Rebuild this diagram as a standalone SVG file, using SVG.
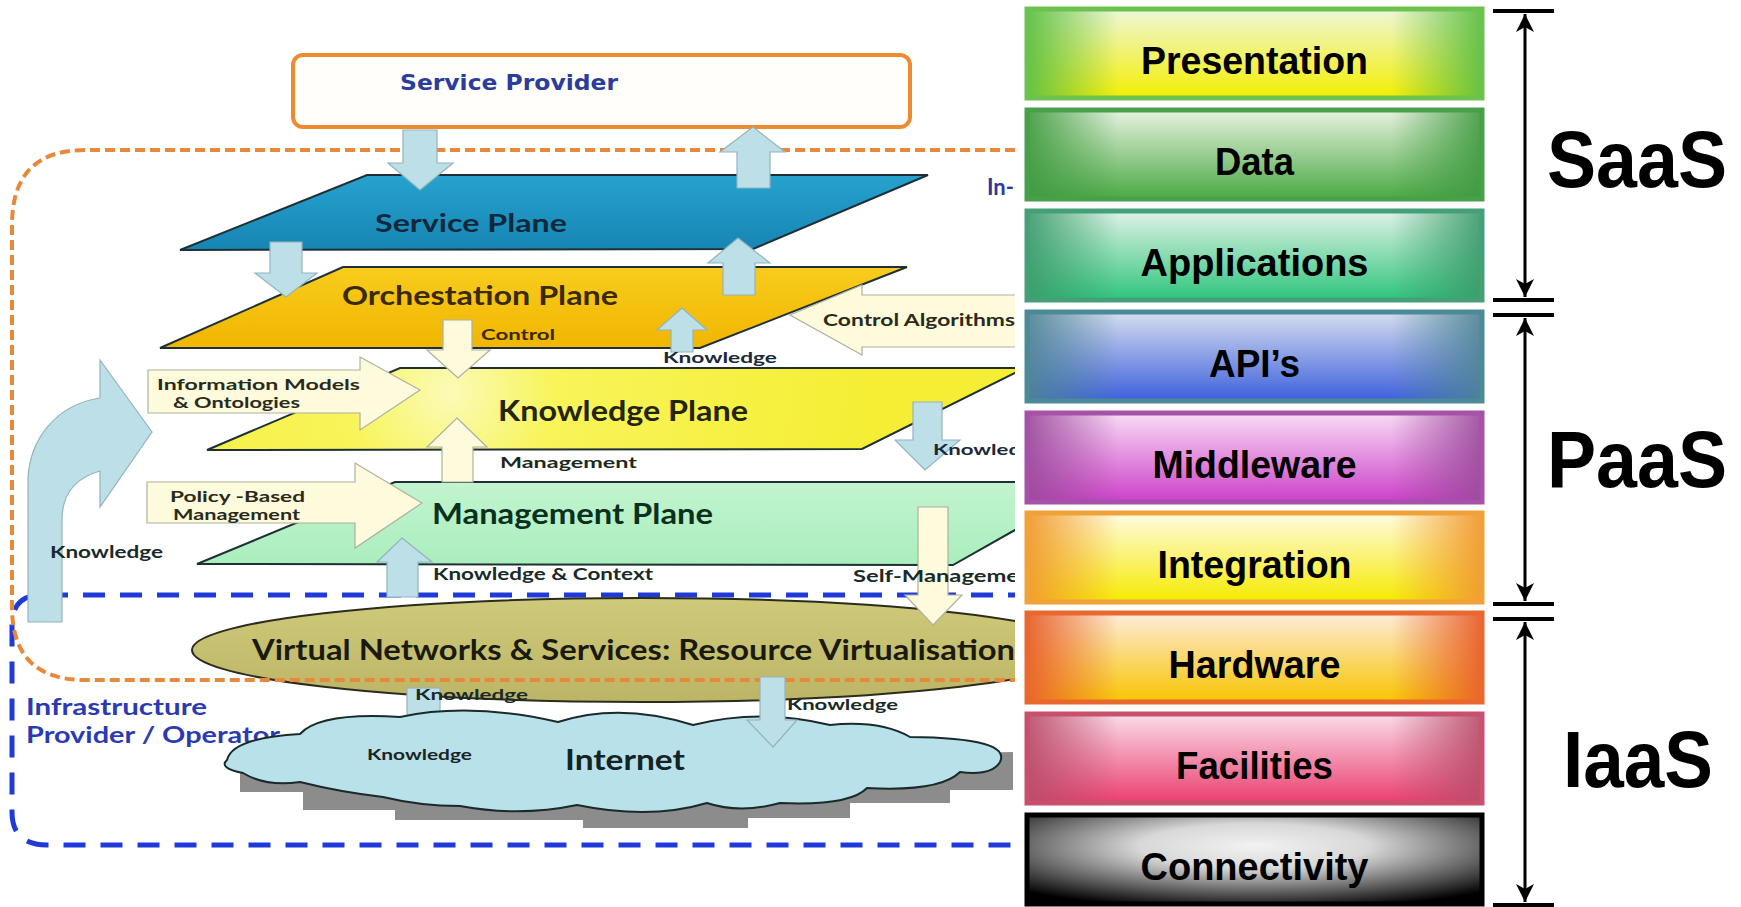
<svg xmlns="http://www.w3.org/2000/svg" width="1741" height="907" viewBox="0 0 1741 907">
<style>
.t{font-family:Lato,"Open Sans","Liberation Sans",sans-serif;font-weight:bold}
.pl{stroke:#1e3036;stroke-width:2}
.cr{fill:#fdfbdc;stroke:#aeb0a0;stroke-width:1.2}
.lb{fill:#bddfe8;stroke:#93b4be;stroke-width:1.2}
.bx{font-family:"Liberation Sans",Arial,sans-serif;font-weight:bold;font-size:38px;text-anchor:middle;fill:#000}
.big{font-family:"Liberation Sans",Arial,sans-serif;font-weight:bold;font-size:79px;text-anchor:middle;fill:#000}
.bar{stroke:#000;stroke-width:4}
.brk{stroke:#000;stroke-width:3}
</style>
<defs>
<clipPath id="lc"><rect x="0" y="0" width="1015" height="907"/></clipPath>
<linearGradient id="gSvc" x1="0" y1="0" x2="0" y2="1"><stop offset="0" stop-color="#26a2cf"/><stop offset="1" stop-color="#1785b3"/></linearGradient>
<linearGradient id="gOrc" x1="0" y1="0" x2="0" y2="1"><stop offset="0" stop-color="#f8cc1e"/><stop offset="1" stop-color="#f1b600"/></linearGradient>
<radialGradient id="gKno" cx="450" cy="392" r="420" gradientUnits="userSpaceOnUse"><stop offset="0" stop-color="#fbfbb8"/><stop offset="0.25" stop-color="#f8f45a"/><stop offset="1" stop-color="#f5ee34"/></radialGradient>
<linearGradient id="gMan" x1="0" y1="0" x2="0" y2="1"><stop offset="0" stop-color="#c2f4cf"/><stop offset="1" stop-color="#aaeebd"/></linearGradient>
<linearGradient id="gVN" x1="0" y1="0" x2="0" y2="1"><stop offset="0" stop-color="#cfc97a"/><stop offset="1" stop-color="#bcb566"/></linearGradient>
<linearGradient id="v1" x1="0" y1="0" x2="0" y2="1"><stop offset="0" stop-color="#eef7da"/><stop offset="1" stop-color="#f4ee00"/></linearGradient>
<linearGradient id="v2" x1="0" y1="0" x2="0" y2="1"><stop offset="0" stop-color="#e8f2e0"/><stop offset="1" stop-color="#4aa843"/></linearGradient>
<linearGradient id="v3" x1="0" y1="0" x2="0" y2="1"><stop offset="0" stop-color="#e0f2e6"/><stop offset="1" stop-color="#2ec47c"/></linearGradient>
<linearGradient id="v4" x1="0" y1="0" x2="0" y2="1"><stop offset="0" stop-color="#d6deee"/><stop offset="1" stop-color="#3c5fdc"/></linearGradient>
<linearGradient id="v5" x1="0" y1="0" x2="0" y2="1"><stop offset="0" stop-color="#f8dcf4"/><stop offset="1" stop-color="#cc40c8"/></linearGradient>
<linearGradient id="v6" x1="0" y1="0" x2="0" y2="1"><stop offset="0" stop-color="#fffbe2"/><stop offset="1" stop-color="#f6ea00"/></linearGradient>
<linearGradient id="v7" x1="0" y1="0" x2="0" y2="1"><stop offset="0" stop-color="#fdecdc"/><stop offset="1" stop-color="#f8c400"/></linearGradient>
<linearGradient id="v8" x1="0" y1="0" x2="0" y2="1"><stop offset="0" stop-color="#f9dde9"/><stop offset="1" stop-color="#ea3e6e"/></linearGradient>
<linearGradient id="h1" x1="0" y1="0" x2="1" y2="0"><stop offset="0" stop-color="#5fbf45" stop-opacity=".95"/><stop offset=".2" stop-color="#5fbf45" stop-opacity="0"/><stop offset=".8" stop-color="#5fbf45" stop-opacity="0"/><stop offset="1" stop-color="#5fbf45" stop-opacity=".95"/></linearGradient>
<linearGradient id="h2" x1="0" y1="0" x2="1" y2="0"><stop offset="0" stop-color="#3f9a40" stop-opacity=".9"/><stop offset=".2" stop-color="#3f9a40" stop-opacity="0"/><stop offset=".8" stop-color="#3f9a40" stop-opacity="0"/><stop offset="1" stop-color="#3f9a40" stop-opacity=".9"/></linearGradient>
<linearGradient id="h3" x1="0" y1="0" x2="1" y2="0"><stop offset="0" stop-color="#3a9a6a" stop-opacity=".9"/><stop offset=".2" stop-color="#3a9a6a" stop-opacity="0"/><stop offset=".8" stop-color="#3a9a6a" stop-opacity="0"/><stop offset="1" stop-color="#3a9a6a" stop-opacity=".9"/></linearGradient>
<linearGradient id="h4" x1="0" y1="0" x2="1" y2="0"><stop offset="0" stop-color="#4e8494" stop-opacity=".9"/><stop offset=".2" stop-color="#4e8494" stop-opacity="0"/><stop offset=".8" stop-color="#4e8494" stop-opacity="0"/><stop offset="1" stop-color="#4e8494" stop-opacity=".9"/></linearGradient>
<linearGradient id="h5" x1="0" y1="0" x2="1" y2="0"><stop offset="0" stop-color="#9a4a9a" stop-opacity=".9"/><stop offset=".2" stop-color="#9a4a9a" stop-opacity="0"/><stop offset=".8" stop-color="#9a4a9a" stop-opacity="0"/><stop offset="1" stop-color="#9a4a9a" stop-opacity=".9"/></linearGradient>
<linearGradient id="h6" x1="0" y1="0" x2="1" y2="0"><stop offset="0" stop-color="#f09a30" stop-opacity=".95"/><stop offset=".2" stop-color="#f09a30" stop-opacity="0"/><stop offset=".8" stop-color="#f09a30" stop-opacity="0"/><stop offset="1" stop-color="#f09a30" stop-opacity=".95"/></linearGradient>
<linearGradient id="h7" x1="0" y1="0" x2="1" y2="0"><stop offset="0" stop-color="#e8602c" stop-opacity=".95"/><stop offset=".2" stop-color="#e8602c" stop-opacity="0"/><stop offset=".8" stop-color="#e8602c" stop-opacity="0"/><stop offset="1" stop-color="#e8602c" stop-opacity=".95"/></linearGradient>
<linearGradient id="h8" x1="0" y1="0" x2="1" y2="0"><stop offset="0" stop-color="#b84c68" stop-opacity=".9"/><stop offset=".2" stop-color="#b84c68" stop-opacity="0"/><stop offset=".8" stop-color="#b84c68" stop-opacity="0"/><stop offset="1" stop-color="#b84c68" stop-opacity=".9"/></linearGradient>
<radialGradient id="r9" cx="0.5" cy="0.35" r="0.72"><stop offset="0" stop-color="#f2f2f2"/><stop offset=".35" stop-color="#d8d8d8"/><stop offset=".75" stop-color="#555"/><stop offset="1" stop-color="#000"/></radialGradient>
<marker id="ah" viewBox="0 0 18 18" refX="18" refY="9" markerWidth="18" markerHeight="18" markerUnits="userSpaceOnUse" orient="auto-start-reverse"><path d="M0,0 L18,9 L0,18 L5,9 Z" fill="#000"/></marker>
</defs>
<rect width="1741" height="907" fill="#fff"/>

<g id="left" clip-path="url(#lc)">
  <g id="infra-provider">
    <path d="M1030 595 L42 595 Q12 595 12 625 L12 812 Q12 845 47 845 L1030 845" fill="none" stroke="#1f3ad8" stroke-width="5" stroke-dasharray="22 15"/>
    <text class="t" x="26" y="715" font-size="23" fill="#2a3ab4" textLength="181" lengthAdjust="spacingAndGlyphs">Infrastructure</text>
    <text class="t" x="26" y="743" font-size="23" fill="#2a3ab4" textLength="254" lengthAdjust="spacingAndGlyphs">Provider / Operator</text>
  </g>
  <g id="virtual-networks">
    <ellipse cx="642" cy="650" rx="450" ry="52" fill="url(#gVN)" stroke="#2c2c1c" stroke-width="2"/>
    <text class="t" x="252" y="660" font-size="29" fill="#1a1a10" textLength="763" lengthAdjust="spacingAndGlyphs">Virtual Networks &amp; Services: Resource Virtualisation</text>
  </g>
  <g id="in-network">
    <path d="M1030 150 L85 150 Q12 150 12 225 L12 607 Q12 680 85 680 L1030 680" fill="none" stroke="#e8883a" stroke-width="4" stroke-dasharray="10 5"/>
    <text class="t" x="987" y="195" font-size="22" fill="#2a3a9c">In-</text>
  </g>
  <g id="internet">
    <rect x="407" y="688" width="33" height="55" class="lb"/>
    <path d="M240 770 L240 792 L303 792 L303 810 L395 810 L395 820 L583 820 L583 828 L748 828 L748 818 L850 818 L850 803 L950 803 L950 790 L1013 790 L1013 752 L600 760 Z" fill="#8c8c8c"/>
    <path d="M227 760 Q232 738 300 734 Q320 712 400 717 Q470 702 558 722 Q620 702 693 725 Q760 708 830 725 Q880 720 910 737 Q1012 738 1000 762 Q992 776 960 772 Q940 792 867 788 Q850 806 780 803 Q740 814 707 803 Q650 820 577 805 Q520 817 460 806 Q420 806 383 797 Q340 792 300 782 Q266 787 243 773 Q218 768 227 760 Z" fill="#b9e1e9" stroke="#1a2a2a" stroke-width="2"/>
    <text class="t" x="565" y="770" font-size="28" fill="#142424" textLength="120" lengthAdjust="spacingAndGlyphs">Internet</text>
    <text class="t" x="367" y="760" font-size="15" fill="#1a2424" textLength="105" lengthAdjust="spacingAndGlyphs">Knowledge</text>
  </g>
  <g id="service-provider">
    <rect x="293" y="55" width="617" height="72" rx="10" fill="#fffefa" stroke="#ee8a30" stroke-width="4"/>
    <text x="400" y="90" font-family="'DejaVu Sans',Verdana,sans-serif" font-weight="bold" font-size="22" fill="#2c3c9c" textLength="218" lengthAdjust="spacingAndGlyphs">Service Provider</text>
  </g>
  <g id="service-plane">
    <polygon class="pl" points="180,250 367,175 928,175 753,249" fill="url(#gSvc)"/>
    <text class="t" x="375" y="232" font-size="25" fill="#10283c" textLength="192" lengthAdjust="spacingAndGlyphs">Service Plane</text>
  </g>
  <g id="orchestration-plane">
    <polygon class="pl" points="160,348 343,267 907,267 700,348" fill="url(#gOrc)"/>
    <text class="t" x="342" y="305" font-size="26" fill="#3a2a00" textLength="276" lengthAdjust="spacingAndGlyphs">Orchestation Plane</text>
  </g>
  <g id="knowledge-plane">
    <polygon class="pl" points="207,450 400,368 1025,368 862,449" fill="url(#gKno)"/>
    <text class="t" x="498" y="421" font-size="28" fill="#24240c" textLength="250" lengthAdjust="spacingAndGlyphs">Knowledge Plane</text>
  </g>
  <g id="management-plane">
    <polygon class="pl" points="197,564 395,482 1100,482 953,565" fill="url(#gMan)"/>
    <text class="t" x="432" y="524" font-size="28" fill="#0a3020" textLength="281" lengthAdjust="spacingAndGlyphs">Management Plane</text>
  </g>

  <g id="connectors">
    <polygon class="lb" points="403,130 437,130 437,163 453,163 420,190 388,163 403,163"/>
    <polygon class="lb" points="753,127 785,152 770,152 770,188 737,188 737,152 720,152"/>
    <polygon class="lb" points="270,242 302,242 302,273 317,273 286,297 255,273 270,273"/>
    <polygon class="lb" points="738,238 770,263 755,263 755,295 723,295 723,263 708,263"/>
    <polygon class="cr" points="443,320 472,320 472,350 490,350 458,378 427,350 443,350"/>
    <polygon class="lb" points="682,308 707,330 693,330 693,352 671,352 671,330 657,330"/>
    <polygon class="cr" points="457,418 487,447 473,447 473,482 442,482 442,447 427,447"/>
    <polygon class="lb" points="913,402 942,402 942,440 960,440 925,470 895,440 913,440"/>
    <polygon class="cr" points="918,507 948,507 948,595 962,595 933,625 905,595 918,595"/>
    <polygon class="lb" points="402,538 432,562 418,562 418,597 387,597 387,562 377,562"/>
    <polygon class="cr" points="148,370 360,370 360,357 420,390 360,430 360,413 148,413"/>
    <polygon class="cr" points="147,482 355,482 355,463 422,503 355,548 355,523 147,523"/>
    <polygon class="cr" points="790,315 862,285 862,295 1030,295 1030,347 862,347 862,355"/>
    <path class="lb" d="M28 622 L28 478 C30 440 55 405 100 398 L100 360 L152 432 L100 507 L100 471 C75 478 62 495 62 520 L62 622 Z"/>
    <polygon class="lb" points="760,677 785,677 785,720 797,720 773,747 747,720 760,720"/>
    <text class="t" x="481" y="340" font-size="15" fill="#3a2a00" textLength="74" lengthAdjust="spacingAndGlyphs">Control</text>
    <text class="t" x="823" y="326" font-size="17" fill="#2a2a1a" textLength="192" lengthAdjust="spacingAndGlyphs">Control Algorithms</text>
    <text class="t" x="663" y="363" font-size="15" fill="#1a2a3a" textLength="114" lengthAdjust="spacingAndGlyphs">Knowledge</text>
    <text class="t" x="157" y="390" font-size="15" fill="#2a2a1a" textLength="203" lengthAdjust="spacingAndGlyphs">Information   Models</text>
    <text class="t" x="173" y="408" font-size="15" fill="#2a2a1a" textLength="127" lengthAdjust="spacingAndGlyphs">&amp; Ontologies</text>
    <text class="t" x="933" y="455" font-size="15" fill="#1a2a3a" textLength="88" lengthAdjust="spacingAndGlyphs">Knowled</text>
    <text class="t" x="500" y="468" font-size="16" fill="#1a2a1a" textLength="137" lengthAdjust="spacingAndGlyphs">Management</text>
    <text class="t" x="170" y="502" font-size="15" fill="#2a2a1a" textLength="135" lengthAdjust="spacingAndGlyphs">Policy  -Based</text>
    <text class="t" x="173" y="520" font-size="15" fill="#2a2a1a" textLength="127" lengthAdjust="spacingAndGlyphs">Management</text>
    <text class="t" x="50" y="558" font-size="17" fill="#1a2a2a" textLength="113" lengthAdjust="spacingAndGlyphs">Knowledge</text>
    <text class="t" x="433" y="580" font-size="17" fill="#1a2a2a" textLength="220" lengthAdjust="spacingAndGlyphs">Knowledge &amp; Context</text>
    <text class="t" x="853" y="582" font-size="17" fill="#1a2a2a" textLength="166" lengthAdjust="spacingAndGlyphs">Self-Manageme</text>
    <text class="t" x="415" y="700" font-size="15" fill="#1a2a2a" textLength="113" lengthAdjust="spacingAndGlyphs">Knowledge</text>
    <text class="t" x="787" y="710" font-size="15" fill="#1a2a2a" textLength="111" lengthAdjust="spacingAndGlyphs">Knowledge</text>
  </g>
</g>

<g id="stack">
  <g id="presentation"><rect x="1027" y="9" width="455" height="89" fill="url(#v1)"/><rect x="1027" y="9" width="455" height="89" fill="url(#h1)" stroke="#6cc24e" stroke-width="5"/><text class="bx" x="1254.5" y="74" textLength="227" lengthAdjust="spacingAndGlyphs">Presentation</text></g>
  <g id="data"><rect x="1027" y="110" width="455" height="89" fill="url(#v2)"/><rect x="1027" y="110" width="455" height="89" fill="url(#h2)" stroke="#4aa04a" stroke-width="5"/><text class="bx" x="1254.5" y="175" textLength="79" lengthAdjust="spacingAndGlyphs">Data</text></g>
  <g id="applications"><rect x="1027" y="211" width="455" height="89" fill="url(#v3)"/><rect x="1027" y="211" width="455" height="89" fill="url(#h3)" stroke="#45a07a" stroke-width="5"/><text class="bx" x="1254.5" y="276" textLength="228" lengthAdjust="spacingAndGlyphs">Applications</text></g>
  <g id="apis"><rect x="1027" y="312" width="455" height="89" fill="url(#v4)"/><rect x="1027" y="312" width="455" height="89" fill="url(#h4)" stroke="#4d8a98" stroke-width="5"/><text class="bx" x="1254.5" y="377" textLength="91" lengthAdjust="spacingAndGlyphs">API’s</text></g>
  <g id="middleware"><rect x="1027" y="413" width="455" height="89" fill="url(#v5)"/><rect x="1027" y="413" width="455" height="89" fill="url(#h5)" stroke="#a552a8" stroke-width="5"/><text class="bx" x="1254.5" y="478" textLength="204" lengthAdjust="spacingAndGlyphs">Middleware</text></g>
  <g id="integration"><rect x="1027" y="513" width="455" height="89" fill="url(#v6)"/><rect x="1027" y="513" width="455" height="89" fill="url(#h6)" stroke="#f0a23a" stroke-width="5"/><text class="bx" x="1254.5" y="578" textLength="194" lengthAdjust="spacingAndGlyphs">Integration</text></g>
  <g id="hardware"><rect x="1027" y="613" width="455" height="89" fill="url(#v7)"/><rect x="1027" y="613" width="455" height="89" fill="url(#h7)" stroke="#e8682e" stroke-width="5"/><text class="bx" x="1254.5" y="678" textLength="172" lengthAdjust="spacingAndGlyphs">Hardware</text></g>
  <g id="facilities"><rect x="1027" y="714" width="455" height="89" fill="url(#v8)"/><rect x="1027" y="714" width="455" height="89" fill="url(#h8)" stroke="#c8506e" stroke-width="5"/><text class="bx" x="1254.5" y="779" textLength="157" lengthAdjust="spacingAndGlyphs">Facilities</text></g>
  <g id="connectivity"><rect x="1027" y="815" width="455" height="89" fill="url(#r9)" stroke="#000" stroke-width="5"/><text class="bx" x="1254.5" y="880" textLength="228" lengthAdjust="spacingAndGlyphs">Connectivity</text></g>
</g>

<g id="brackets">
  <line class="bar" x1="1493" y1="11" x2="1554" y2="11"/>
  <line class="bar" x1="1493" y1="300" x2="1554" y2="300"/>
  <line class="brk" x1="1525" y1="14" x2="1525" y2="297" marker-start="url(#ah)" marker-end="url(#ah)"/>
  <line class="bar" x1="1493" y1="315" x2="1554" y2="315"/>
  <line class="bar" x1="1493" y1="604" x2="1554" y2="604"/>
  <line class="brk" x1="1525" y1="318" x2="1525" y2="601" marker-start="url(#ah)" marker-end="url(#ah)"/>
  <line class="bar" x1="1493" y1="619" x2="1554" y2="619"/>
  <line class="bar" x1="1493" y1="905" x2="1554" y2="905"/>
  <line class="brk" x1="1525" y1="622" x2="1525" y2="902" marker-start="url(#ah)" marker-end="url(#ah)"/>
  <text class="big" x="1637" y="187" textLength="180" lengthAdjust="spacingAndGlyphs">SaaS</text>
  <text class="big" x="1637" y="487" textLength="180" lengthAdjust="spacingAndGlyphs">PaaS</text>
  <text class="big" x="1638" y="787" textLength="150" lengthAdjust="spacingAndGlyphs">IaaS</text>
</g>
</svg>
